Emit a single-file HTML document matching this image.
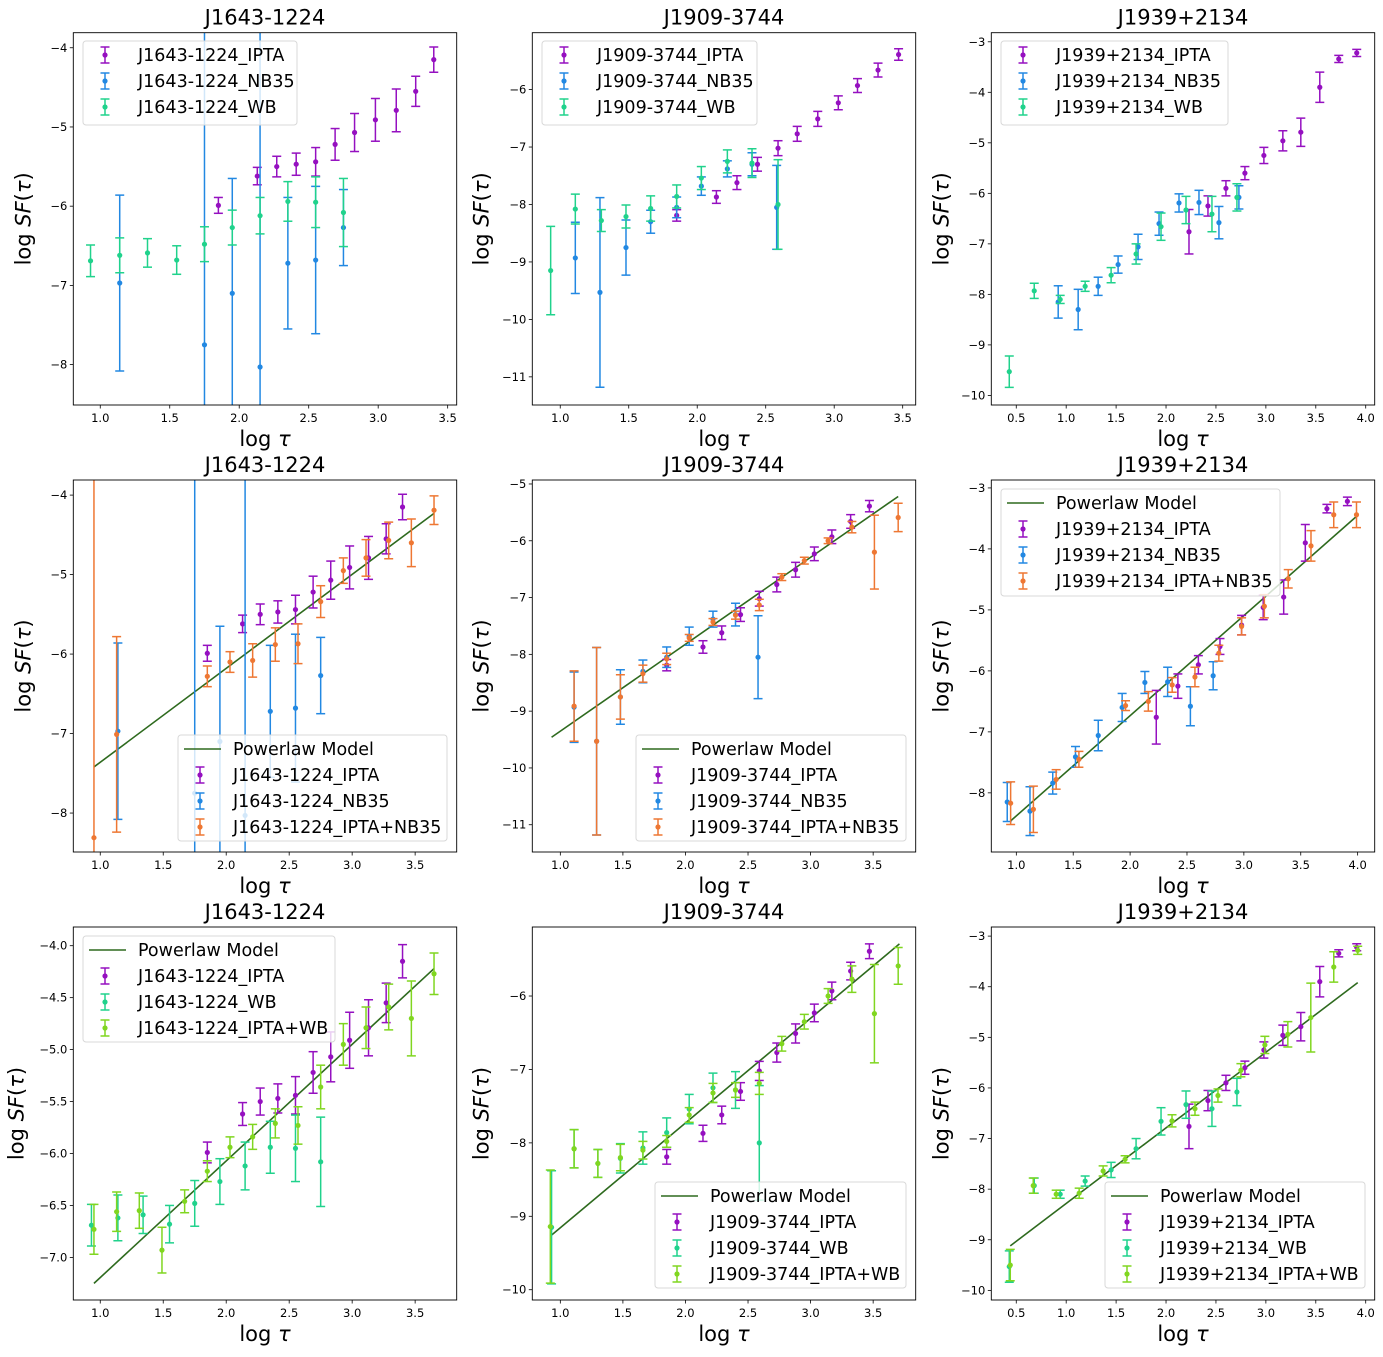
<!DOCTYPE html>
<html><head><meta charset="utf-8">
<style>
body{margin:0;background:#fff;}
svg{display:block;font-family:"DejaVu Sans","Liberation Sans",sans-serif;}
.tick{font-size:11.5px;fill:#000;}
.title{font-size:21px;fill:#000;}
.axl{font-size:21px;fill:#000;}
.leg{font-size:17.5px;fill:#000;}
</style></head>
<body>
<svg id="fig" width="1383" height="1357" viewBox="0 0 1383 1357" xmlns="http://www.w3.org/2000/svg"></svg>
<script>
// ---------- data ----------
const j1643_ipta_x = [1.85,2.13,2.27,2.41,2.55,2.69,2.83,2.98,3.13,3.27,3.40];
const j1643_ipta_y = [-5.99,-5.62,-5.50,-5.47,-5.44,-5.22,-5.07,-4.91,-4.79,-4.55,-4.15];
const j1643_ipta_e = [0.10,0.11,0.13,0.14,0.18,0.20,0.24,0.27,0.27,0.19,0.16];
const j1643_nb_x = [1.14,1.75,1.95,2.15,2.35,2.55,2.75];
const j1643_nb_y = [-6.97,-7.75,-7.10,-8.03,-6.72,-6.68,-6.27];
const j1643_nb_e = [1.11,6.0,1.45,6.0,0.83,0.93,0.48];
const j1643_wb_x = [0.93,1.14,1.34,1.55,1.75,1.95,2.15,2.35,2.55,2.75];
const j1643_wb_y = [-6.69,-6.62,-6.59,-6.68,-6.48,-6.27,-6.12,-5.94,-5.95,-6.08];
const j1643_wb_e = [0.20,0.22,0.18,0.18,0.22,0.22,0.23,0.25,0.32,0.43];
const j1643_nbc_x = [0.95,1.13,1.85,2.03,2.21,2.39,2.57,2.75,2.93,3.11,3.29,3.47,3.65];
const j1643_nbc_y = [-8.31,-7.01,-6.28,-6.10,-6.08,-5.88,-5.87,-5.34,-4.95,-4.79,-4.57,-4.60,-4.19];
const j1643_nbc_e = [5.0,1.23,0.13,0.13,0.21,0.21,0.25,0.20,0.16,0.23,0.23,0.30,0.18];
const j1643_wbc_x = [0.95,1.13,1.31,1.49,1.67,1.85,2.03,2.21,2.39,2.57,2.75,2.93,3.11,3.29,3.47,3.65];
const j1643_wbc_y = [-6.73,-6.56,-6.55,-6.93,-6.46,-6.17,-5.94,-5.84,-5.71,-5.73,-5.36,-4.95,-4.79,-4.59,-4.70,-4.27];
const j1643_wbc_e = [0.24,0.19,0.17,0.22,0.11,0.10,0.10,0.12,0.14,0.18,0.21,0.20,0.20,0.22,0.36,0.20];
const j1643_nb_model = [[0.95,-7.42],[3.65,-4.23]];
const j1643_wb_model = [[0.95,-7.25],[3.65,-4.22]];

const j1909_ipta_x = [1.85,2.14,2.29,2.44,2.59,2.73,2.88,3.03,3.17,3.32,3.47];
const j1909_ipta_y = [-8.19,-7.87,-7.62,-7.30,-7.02,-6.77,-6.51,-6.23,-5.93,-5.66,-5.39];
const j1909_ipta_e = [0.10,0.11,0.12,0.12,0.13,0.13,0.13,0.12,0.12,0.12,0.10];
const j1909_nb_x = [1.11,1.29,1.48,1.66,1.85,2.03,2.22,2.40,2.58];
const j1909_nb_y = [-8.93,-9.53,-8.75,-8.30,-8.05,-7.68,-7.38,-7.30,-8.05];
const j1909_nb_e = [0.62,1.65,0.48,0.20,0.18,0.16,0.14,0.20,0.73];
const j1909_wb_x = [0.93,1.11,1.30,1.48,1.66,1.85,2.03,2.22,2.40,2.59];
const j1909_wb_y = [-9.15,-8.08,-8.28,-8.21,-8.07,-7.86,-7.54,-7.25,-7.28,-8.00];
const j1909_wb_e = [0.77,0.26,0.19,0.20,0.22,0.20,0.20,0.20,0.25,0.78];
const j1909_nbc_x = [1.11,1.29,1.48,1.66,1.85,2.03,2.22,2.40,2.59,2.77,2.95,3.14,3.33,3.51,3.70];
const j1909_nbc_y = [-8.91,-9.53,-8.75,-8.34,-8.08,-7.71,-7.43,-7.31,-7.13,-6.64,-6.35,-6.00,-5.76,-6.20,-5.59];
const j1909_nbc_e = [0.62,1.65,0.39,0.15,0.10,0.06,0.06,0.07,0.10,0.06,0.06,0.05,0.10,0.65,0.25];
const j1909_wbc_x = [0.92,1.11,1.30,1.48,1.66,1.85,2.03,2.22,2.40,2.59,2.77,2.95,3.14,3.33,3.51,3.70];
const j1909_wbc_y = [-9.14,-8.08,-8.28,-8.20,-8.10,-7.98,-7.62,-7.32,-7.28,-7.19,-6.65,-6.35,-6.00,-5.77,-6.24,-5.59];
const j1909_wbc_e = [0.77,0.26,0.19,0.18,0.12,0.08,0.10,0.13,0.10,0.15,0.10,0.10,0.10,0.18,0.67,0.25];
const j1909_nb_model = [[0.93,-9.46],[3.70,-5.22]];
const j1909_wb_model = [[0.92,-9.27],[3.71,-5.29]];

const j1939_ipta_x = [2.23,2.42,2.60,2.79,2.98,3.17,3.35,3.54,3.73,3.91];
const j1939_ipta_y = [-6.76,-6.25,-5.90,-5.60,-5.25,-4.96,-4.79,-3.90,-3.34,-3.22];
const j1939_ipta_e = [0.44,0.20,0.15,0.13,0.16,0.20,0.28,0.30,0.07,0.07];
const j1939_nb_x = [0.92,1.12,1.32,1.52,1.72,1.93,2.13,2.33,2.53,2.73];
const j1939_nb_y = [-8.15,-8.30,-7.84,-7.41,-7.06,-6.60,-6.19,-6.18,-6.58,-6.08];
const j1939_nb_e = [0.32,0.40,0.18,0.17,0.25,0.23,0.18,0.24,0.32,0.23];
const j1939_wb_x = [0.43,0.68,0.94,1.19,1.45,1.70,1.95,2.20,2.46,2.71];
const j1939_wb_y = [-9.53,-7.93,-8.10,-7.84,-7.62,-7.20,-6.66,-6.33,-6.41,-6.08];
const j1939_wb_e = [0.31,0.15,0.08,0.10,0.15,0.20,0.27,0.27,0.35,0.27];
const j1939_nbc_x = [0.95,1.15,1.35,1.55,1.96,2.16,2.37,2.57,2.78,2.98,3.18,3.39,3.59,3.79,3.99];
const j1939_nbc_y = [-8.17,-8.27,-7.78,-7.45,-6.57,-6.50,-6.23,-6.10,-5.71,-5.27,-4.94,-4.49,-3.95,-3.44,-3.44];
const j1939_nbc_e = [0.35,0.38,0.16,0.13,0.08,0.16,0.12,0.16,0.13,0.14,0.19,0.15,0.25,0.21,0.21];
const j1939_wbc_x = [0.44,0.67,0.90,1.13,1.37,1.59,2.06,2.29,2.52,2.75,2.99,3.22,3.45,3.68,3.92];
const j1939_wbc_y = [-9.50,-7.93,-8.10,-8.08,-7.64,-7.41,-6.65,-6.41,-6.15,-5.65,-5.15,-4.94,-4.61,-3.61,-3.28];
const j1939_wbc_e = [0.31,0.15,0.08,0.10,0.10,0.07,0.12,0.13,0.13,0.13,0.17,0.25,0.68,0.30,0.08];
const j1939_nb_model = [[0.95,-8.46],[4.00,-3.45]];
const j1939_wb_model = [[0.44,-9.12],[3.92,-3.92]];

const titles = ["J1643-1224","J1909-3744","J1939+2134"];
</script>
<script>
const C = {ipta:"#9510c0", nb:"#2288e2", wb:"#20d28c", nbc:"#ee7733", wbc:"#80d620", model:"#2e6a1e"};
const NS = "http://www.w3.org/2000/svg";
const fig = document.getElementById('fig');
function mk(tag, attrs, parent){
  const e = document.createElementNS(NS, tag);
  for (const k in attrs) e.setAttribute(k, attrs[k]);
  (parent||fig).appendChild(e);
  return e;
}
function S(x,y,e){return {x:x,y:y,e:e};}
const D = {
  "J1643-1224":{ipta:S(j1643_ipta_x,j1643_ipta_y,j1643_ipta_e),nb:S(j1643_nb_x,j1643_nb_y,j1643_nb_e),wb:S(j1643_wb_x,j1643_wb_y,j1643_wb_e),nbc:S(j1643_nbc_x,j1643_nbc_y,j1643_nbc_e),wbc:S(j1643_wbc_x,j1643_wbc_y,j1643_wbc_e),nbm:j1643_nb_model,wbm:j1643_wb_model},
  "J1909-3744":{ipta:S(j1909_ipta_x,j1909_ipta_y,j1909_ipta_e),nb:S(j1909_nb_x,j1909_nb_y,j1909_nb_e),wb:S(j1909_wb_x,j1909_wb_y,j1909_wb_e),nbc:S(j1909_nbc_x,j1909_nbc_y,j1909_nbc_e),wbc:S(j1909_wbc_x,j1909_wbc_y,j1909_wbc_e),nbm:j1909_nb_model,wbm:j1909_wb_model},
  "J1939+2134":{ipta:S(j1939_ipta_x,j1939_ipta_y,j1939_ipta_e),nb:S(j1939_nb_x,j1939_nb_y,j1939_nb_e),wb:S(j1939_wb_x,j1939_wb_y,j1939_wb_e),nbc:S(j1939_nbc_x,j1939_nbc_y,j1939_nbc_e),wbc:S(j1939_wbc_x,j1939_wbc_y,j1939_wbc_e),nbm:j1939_nb_model,wbm:j1939_wb_model}
};
const colL=[73.3,532.3,991.3], colR=[456.7,915.7,1374.7], rowT=[32.7,480,927], rowB=[405,852,1300];
// panels: [row, col, xmin,xmax, ymin,ymax, xticks, yticks, ydec, series, model, legend box [x,y,w,h]]
const P = [
 [0,0,0.806,3.565,-8.51,-3.81,[1,1.5,2,2.5,3,3.5],[-8,-7,-6,-5,-4],0,["ipta","nb","wb"],null,[83,41,214,84]],
 [0,1,0.796,3.595,-11.49,-5.01,[1,1.5,2,2.5,3,3.5],[-11,-10,-9,-8,-7,-6],0,["ipta","nb","wb"],null,[542,41,215,84]],
 [0,2,0.25,4.09,-10.19,-2.82,[0.5,1,1.5,2,2.5,3,3.5,4],[-10,-9,-8,-7,-6,-5,-4,-3],0,["ipta","nb","wb"],null,[1001,41,227,84]],
 [1,0,0.786,3.83,-8.49,-3.81,[1,1.5,2,2.5,3,3.5],[-8,-7,-6,-5,-4],0,["ipta","nb","nbc"],"nbm",[178,735,269,106]],
 [1,1,0.776,3.84,-11.48,-4.93,[1,1.5,2,2.5,3,3.5],[-11,-10,-9,-8,-7,-6,-5],0,["ipta","nb","nbc"],"nbm",[636,735,270,106]],
 [1,2,0.78,4.15,-8.97,-2.87,[1,1.5,2,2.5,3,3.5,4],[-8,-7,-6,-5,-4,-3],0,["ipta","nb","nbc"],"nbm",[1001,489,279,107]],
 [2,0,0.786,3.83,-7.41,-3.82,[1,1.5,2,2.5,3,3.5],[-7,-6.5,-6,-5.5,-5,-4.5,-4],1,["ipta","wb","wbc"],"wbm",[83,936,252,106]],
 [2,1,0.776,3.84,-10.14,-5.06,[1,1.5,2,2.5,3,3.5],[-10,-9,-8,-7,-6],0,["ipta","wb","wbc"],"wbm",[655,1182,251,106]],
 [2,2,0.25,4.09,-10.19,-2.82,[0.5,1,1.5,2,2.5,3,3.5,4],[-10,-9,-8,-7,-6,-5,-4,-3],0,["ipta","wb","wbc"],"wbm",[1105,1182,260,106]]
];
const suffix={ipta:"_IPTA",nb:"_NB35",wb:"_WB",nbc:"_IPTA+NB35",wbc:"_IPTA+WB"};
function fmt(v,dec){const s=v.toFixed(dec);return v<0?"\u2212"+s.slice(1):s;}

P.forEach((p,pi)=>{
  const [r,c,x0,x1,y0,y1,xt,yt,ydec,series,model,lb]=p;
  const L=colL[c],R=colR[c],T=rowT[r],B=rowB[r];
  const name=titles[c];
  const sx=v=>L+(v-x0)/(x1-x0)*(R-L);
  const sy=v=>B-(v-y0)/(y1-y0)*(B-T);
  const g=mk('g',{});
  
  
  const cp=mk('clipPath',{id:'cp'+pi},g);
  mk('rect',{x:L,y:T,width:R-L,height:B-T},cp);
  // title
  const t=mk('text',{x:(L+R)/2,y:T-8,'text-anchor':'middle','class':'title'},g);
  t.textContent=name;
  
  
  // x ticks
  xt.forEach(v=>{
    const X=sx(v);
    mk('line',{x1:X,x2:X,y1:B,y2:B+3.5,stroke:'#000','stroke-width':0.8},g);
    const tt=mk('text',{x:X,y:B+17,'text-anchor':'middle','class':'tick'},g);
    tt.textContent=v.toFixed(1);
    
    
  });
  yt.forEach(v=>{
    const Y=sy(v);
    mk('line',{x1:L-3.5,x2:L,y1:Y,y2:Y,stroke:'#000','stroke-width':0.8},g);
    const tt=mk('text',{x:L-6,y:Y+4,'text-anchor':'end','class':'tick'},g);
    tt.textContent=fmt(v,ydec);
    
    
  });
  // axis labels
  const xl=mk('text',{x:(L+R)/2,y:B+41,'text-anchor':'middle','class':'axl'},g);
  xl.innerHTML='log <tspan font-style="italic">τ</tspan>';
  
  
  const yx=L-(c===0?(ydec?50:43):(c===1?44:43)), ym=(T+B)/2;
  const yl=mk('text',{x:yx,y:ym,'text-anchor':'middle','class':'axl',transform:`rotate(-90 ${yx} ${ym})`},g);
  yl.innerHTML='log <tspan font-style="italic">SF</tspan>(<tspan font-style="italic">τ</tspan>)';
  
  
  // plot area
  const pg=mk('g',{'clip-path':`url(#cp${pi})`},g);
  const d=D[name];
  if(model){
    const m=d[model];
    const ml=mk('line',{x1:sx(m[0][0]),y1:sy(m[0][1]),x2:sx(m[1][0]),y2:sy(m[1][1]),stroke:C.model,'stroke-width':1.6},pg);
    
    
  }
  series.forEach(k=>{
    const s=d[k];
    const sg=mk('g',{},pg);
    
    
    s.x.forEach((xv,i)=>{
      const X=sx(xv),Y=sy(s.y[i]),Yt=sy(s.y[i]+s.e[i]),Yb=sy(s.y[i]-s.e[i]);
      mk('line',{x1:X,x2:X,y1:Yt,y2:Yb,stroke:C[k],'stroke-width':1.5},sg);
      mk('line',{x1:X-4.5,x2:X+4.5,y1:Yt,y2:Yt,stroke:C[k],'stroke-width':1.5},sg);
      mk('line',{x1:X-4.5,x2:X+4.5,y1:Yb,y2:Yb,stroke:C[k],'stroke-width':1.5},sg);
      const pt=mk('circle',{cx:X,cy:Y,r:2.6,fill:C[k]},sg);
      
      
    });
  });
  // frame
  mk('rect',{x:L,y:T,width:R-L,height:B-T,fill:'none',stroke:'#000','stroke-width':0.9},g);
  // legend
  const lg=mk('g',{},g);
  
  
  mk('rect',{x:lb[0],y:lb[1],width:lb[2],height:lb[3],rx:3,fill:'rgba(255,255,255,0.8)',stroke:'#d8d8d8','stroke-width':1},lg);
  let entries=[];
  if(model) entries.push(['model','Powerlaw Model']);
  series.forEach(k=>entries.push([k,name+suffix[k]]));
  entries.forEach((en,i)=>{
    const ey=lb[1]+14+i*26, mx=lb[0]+22;
    if(en[0]==='model'){
      mk('line',{x1:lb[0]+6,x2:lb[0]+43,y1:ey,y2:ey,stroke:C.model,'stroke-width':1.6},lg);
    } else {
      const col=C[en[0]];
      mk('line',{x1:mx,x2:mx,y1:ey-8,y2:ey+8,stroke:col,'stroke-width':1.5},lg);
      mk('line',{x1:mx-4.5,x2:mx+4.5,y1:ey-8,y2:ey-8,stroke:col,'stroke-width':1.5},lg);
      mk('line',{x1:mx-4.5,x2:mx+4.5,y1:ey+8,y2:ey+8,stroke:col,'stroke-width':1.5},lg);
      mk('circle',{cx:mx,cy:ey,r:2.6,fill:col},lg);
    }
    const lt=mk('text',{x:lb[0]+55,y:ey+6,'class':'leg'},lg);
    lt.textContent=en[1];
    
    
  });
});
</script>
</body></html>
